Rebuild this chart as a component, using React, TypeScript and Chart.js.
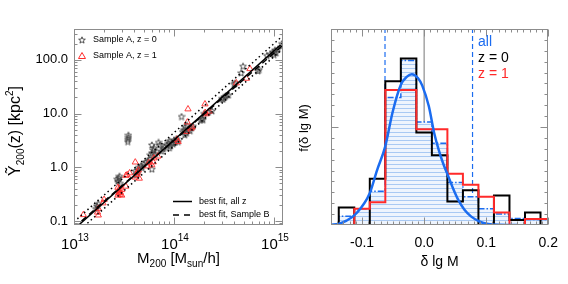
import React, { useEffect, useRef } from "react";
import { Chart, registerables } from "chart.js";

Chart.register(...registerables);

const FONT = '"Liberation Sans", Arial, Helvetica, sans-serif';
const BLUE = "#1b6cf0";
const RED = "#ff2a2a";
const STAR_COLOR = "#404040";
const FRAME = "#8c8c8c";

// ---------------- left panel data ----------------
const massTicks = [1e13, 1e14, 1e15];
const yTicksLeft = [0.1, 1, 10, 100];
// masses in units of 1e14 Msun/h
const starMass = [0.165, 0.17, 0.175, 0.27, 0.275, 0.28, 0.285, 0.29, 0.345, 0.345, 0.35, 0.35, 0.41, 0.42, 0.43, 0.44, 0.45, 0.47, 0.48, 0.5, 0.52, 0.55, 0.57, 0.6, 0.58, 0.6, 0.6, 0.62, 0.63, 0.65, 0.67, 0.7, 0.72, 0.75, 0.78, 0.8, 0.85, 0.88, 0.9, 0.9, 0.92, 0.95, 0.98, 1.0, 1.03, 1.06, 1.1, 1.19, 1.22, 1.25, 1.28, 1.3, 1.33, 1.35, 1.4, 1.45, 1.5, 1.55, 1.85, 1.9, 1.95, 2.0, 2.2, 2.4, 3.0, 3.1, 3.2, 3.3, 3.5, 4.0, 4.1, 4.7, 4.9, 6.9, 7.1, 8.5, 9.2, 9.8, 10.0, 10.2, 10.5, 11.0, 12.0];
const starY = [0.17, 0.19, 0.21, 0.6, 0.55, 0.63, 0.68, 0.5, 3.0, 3.3, 3.6, 3.95, 0.85, 0.72, 0.8, 0.9, 1.0, 1.05, 0.98, 1.15, 1.25, 1.3, 1.4, 0.92, 1.7, 1.85, 2.6, 2.1, 2.3, 1.75, 1.95, 2.9, 2.6, 2.0, 2.2, 2.4, 2.6, 2.8, 3.1, 2.3, 2.5, 2.9, 2.7, 3.2, 2.9, 3.4, 3.0, 8.8, 4.6, 5.0, 4.0, 5.6, 4.3, 6.0, 5.0, 4.8, 5.4, 5.8, 7.5, 8.0, 7.7, 10.0, 10.5, 11.2, 19, 18.5, 20, 21.5, 22, 35, 37, 57, 76, 62, 66, 120, 128, 140, 125, 150, 135, 160, 200];
const triMass = [0.124, 0.172, 0.175, 0.175, 0.195, 0.2, 0.275, 0.275, 0.28, 0.28, 0.285, 0.29, 0.29, 0.3, 0.3, 0.33, 0.33, 0.34, 0.36, 0.41, 0.41, 0.42, 0.43, 0.44, 0.45, 0.54, 0.56, 0.6, 0.62, 0.63, 0.69, 1.07, 1.1, 1.34, 1.36, 1.38, 1.48, 1.52, 2.04, 2.05, 2.1, 2.25, 4.2, 5.3, 5.75];
const triY = [0.13, 0.145, 0.128, 0.17, 0.215, 0.25, 0.3, 0.42, 0.33, 0.36, 0.4, 0.31, 0.34, 0.3, 0.38, 0.44, 0.7, 0.72, 0.78, 1.24, 0.65, 0.72, 0.8, 0.88, 0.62, 1.05, 1.2, 1.1, 1.25, 1.48, 1.6, 3.3, 3.0, 4.6, 6.9, 12.1, 5.3, 5.6, 15, 10.4, 9.8, 11, 37, 45, 68];
const fitMassEnds = [1e13, 1.3e15];
const fitAllZ = [0.07, 227];
const fitSampleB = [0.075, 205];
const fitUpper = [0.096, 310];
const fitLower = [0.054, 178];

// ---------------- right panel data ----------------
const binEdges = [-0.15, -0.1375, -0.1125, -0.0875, -0.0625, -0.0375, -0.0125, 0.0125, 0.0375, 0.0625, 0.0875, 0.1125, 0.1375, 0.1625, 0.1875, 0.2];
const histZ0 = [0, 1.6, 0, 4.25, 13.2, 15.3, 8.5, 6.4, 2.15, 3.2, 0, 2.7, 0.46, 1.15, 0, 0];
const histZ1 = [null, 0, 1.5, 2.1, 12.4, 12.4, 8.8, 8.8, 4.7, 3.7, 2.6, 1.15, 0, 0.55, 0.55, 0.55];
const histAll = [0, 0.8, 1.5, 3.1, 11.7, 15.1, 9.45, 7.5, 3.9, 2.6, 1.5, 1.0, 0.6, 0.5, 0.5, 0.5];
const gaussX = [-0.15, -0.138, -0.125, -0.109, -0.0876, -0.076, -0.0627, -0.0506, -0.0373, -0.028, -0.0198, -0.01, -0.003, 0.0076, 0.016, 0.0235, 0.031, 0.039, 0.047, 0.055, 0.065, 0.076, 0.09, 0.103, 0.12, 0.15];
const gaussY = [0.02, 0.1, 0.4, 1.08, 2.92, 5.0, 7.2, 10.4, 12.9, 13.6, 13.85, 13.5, 12.8, 10.9, 8.5, 6.9, 5.6, 4.46, 3.3, 2.3, 1.4, 0.77, 0.3, 0.1, 0.02, 0];
const deltaTicks = [-0.1, 0, 0.1, 0.2];
const sigmaLines = [-0.063, 0.078];
const fMax = 18;

// ---------------- helpers ----------------
type Part = { t: string; s: number; dy?: number };

function partsWidth(ctx: CanvasRenderingContext2D, parts: Part[]) {
  let w = 0;
  for (const p of parts) {
    ctx.font = `${p.s}px ${FONT}`;
    w += ctx.measureText(p.t).width;
  }
  return w;
}

function drawParts(ctx: CanvasRenderingContext2D, parts: Part[], x: number, y: number, color: string) {
  let cx = x;
  ctx.fillStyle = color;
  ctx.textBaseline = "alphabetic";
  ctx.textAlign = "left";
  for (const p of parts) {
    ctx.font = `${p.s}px ${FONT}`;
    ctx.fillText(p.t, cx, y + (p.dy || 0));
    cx += ctx.measureText(p.t).width;
  }
}

function makeStar(color: string) {
  const c = document.createElement("canvas");
  c.width = 8;
  c.height = 8;
  const g = c.getContext("2d")!;
  g.strokeStyle = color;
  g.lineWidth = 0.9;
  g.beginPath();
  for (let i = 0; i < 10; i++) {
    const r = i % 2 === 0 ? 3.5 : 1.5;
    const a = -Math.PI / 2 + (i * Math.PI) / 5;
    const x = 4 + r * Math.cos(a);
    const y = 4.3 + r * Math.sin(a);
    if (i === 0) g.moveTo(x, y);
    else g.lineTo(x, y);
  }
  g.closePath();
  g.stroke();
  return c;
}

function makeHatch() {
  const c = document.createElement("canvas");
  c.width = 4;
  c.height = 4;
  const g = c.getContext("2d")!;
  g.fillStyle = "#eef4fd";
  g.fillRect(0, 0, 4, 4);
  g.fillStyle = "#a9c9f3";
  g.fillRect(0, 0, 4, 1);
  return g.createPattern(c, "repeat")!;
}

function logMinor(min: number, max: number) {
  const out: number[] = [];
  for (let e = -3; e <= 16; e++) {
    for (let k = 2; k <= 9; k++) {
      const v = k * Math.pow(10, e);
      if (v > min && v < max) out.push(v);
    }
  }
  return out;
}

function linMinor(min: number, max: number, step: number) {
  const out: number[] = [];
  const n = Math.round((max - min) / step);
  for (let i = 1; i < n; i++) out.push(min + i * step);
  return out;
}

function framePlugin(spec: { xMajor: number[]; xMinor: number[]; yMajor: number[]; yMinor: number[] }) {
  return {
    id: "frameTicks",
    afterDatasetsDraw(chart: any) {
      const { ctx, chartArea: a, scales } = chart;
      const L = Math.round(a.left) + 0.5;
      const R = Math.round(a.right) - 0.5;
      const T = Math.round(a.top) + 0.5;
      const B = Math.round(a.bottom) - 0.5;
      ctx.save();
      ctx.strokeStyle = FRAME;
      ctx.lineWidth = 1;
      ctx.setLineDash([]);
      ctx.strokeRect(L, T, R - L, B - T);
      const tick = (vals: number[], len: number, axis: "x" | "y") => {
        ctx.beginPath();
        for (const v of vals) {
          if (axis === "x") {
            const p = Math.round(scales.x.getPixelForValue(v)) + 0.5;
            if (p < L || p > R + 1) continue;
            ctx.moveTo(p, B);
            ctx.lineTo(p, B - len);
            ctx.moveTo(p, T);
            ctx.lineTo(p, T + len);
          } else {
            const p = Math.round(scales.y.getPixelForValue(v)) + 0.5;
            if (p < T || p > B + 1) continue;
            ctx.moveTo(L, p);
            ctx.lineTo(L + len, p);
            ctx.moveTo(R, p);
            ctx.lineTo(R - len, p);
          }
        }
        ctx.stroke();
      };
      tick(spec.xMinor, 3, "x");
      tick(spec.xMajor, 7, "x");
      tick(spec.yMinor, 3, "y");
      tick(spec.yMajor, 7, "y");
      ctx.restore();
    },
  };
}

const baseOptions = {
  responsive: false,
  maintainAspectRatio: false,
  devicePixelRatio: 1,
  animation: false as const,
  events: [] as any[],
  plugins: { legend: { display: false }, tooltip: { enabled: false } },
};

function leftConfig(): any {
  const star = makeStar(STAR_COLOR);
  const line = (ys: number[], dash: number[], width: number) => ({
    data: fitMassEnds.map((m, i) => ({ x: m, y: ys[i] })),
    showLine: true,
    pointRadius: 0,
    borderColor: "#000",
    borderWidth: width,
    borderDash: dash,
    fill: false,
  });
  const textPlugin = {
    id: "leftText",
    afterDraw(chart: any) {
      const { ctx, chartArea: a, scales } = chart;
      ctx.save();
      for (const v of massTicks) {
        const px = scales.x.getPixelForValue(v);
        const parts: Part[] = [
          { t: "10", s: 15 },
          { t: String(Math.round(Math.log10(v))), s: 10, dy: -8 },
        ];
        const w = partsWidth(ctx, parts);
        drawParts(ctx, parts, px - w / 2 + 1, 249, "#000");
      }
      const xt: Part[] = [
        { t: "M", s: 15 },
        { t: "200", s: 10, dy: 4 },
        { t: " [M", s: 15 },
        { t: "sun", s: 10, dy: 4 },
        { t: "/h]", s: 15 },
      ];
      const xw = partsWidth(ctx, xt);
      drawParts(ctx, xt, (a.left + a.right) / 2 - xw / 2, 263, "#000");
      const yt: Part[] = [
        { t: "Ỹ", s: 16 },
        { t: "200", s: 10, dy: 4 },
        { t: "(z) [kpc", s: 16 },
        { t: "2", s: 10, dy: -7 },
        { t: "]", s: 16 },
      ];
      const yw = partsWidth(ctx, yt);
      ctx.save();
      ctx.translate(20, 131);
      ctx.rotate(-Math.PI / 2);
      drawParts(ctx, yt, -yw / 2, 0, "#000");
      ctx.restore();
      ctx.drawImage(star, 82 - 4, 40 - 4);
      ctx.strokeStyle = RED;
      ctx.lineWidth = 1;
      ctx.beginPath();
      ctx.moveTo(82, 52.5);
      ctx.lineTo(85.5, 58.5);
      ctx.lineTo(78.5, 58.5);
      ctx.closePath();
      ctx.stroke();
      ctx.fillStyle = "#000";
      ctx.font = `9px ${FONT}`;
      ctx.textBaseline = "middle";
      ctx.textAlign = "left";
      ctx.fillText("Sample A, z = 0", 93, 40);
      ctx.fillText("Sample A, z = 1", 93, 56);
      ctx.strokeStyle = "#000";
      ctx.lineWidth = 1.5;
      ctx.beginPath();
      ctx.moveTo(173, 201.5);
      ctx.lineTo(192, 201.5);
      ctx.stroke();
      ctx.setLineDash([6, 5]);
      ctx.beginPath();
      ctx.moveTo(173, 215);
      ctx.lineTo(192, 215);
      ctx.stroke();
      ctx.setLineDash([]);
      ctx.fillText("best fit, all z", 199, 201.5);
      ctx.fillText("best fit, Sample B", 199, 215);
      ctx.restore();
    },
  };
  return {
    type: "scatter",
    data: {
      datasets: [
        { ...line(fitAllZ, [], 1.5), order: 0 },
        { ...line(fitSampleB, [6, 4], 1.5), order: 1 },
        { ...line(fitUpper, [1.5, 3], 1.5), order: 2 },
        { ...line(fitLower, [1.5, 3], 1.5), order: 3 },
        {
          data: triMass.map((m, i) => ({ x: m * 1e14, y: triY[i] })),
          pointStyle: "triangle",
          pointRadius: 3.6,
          borderColor: RED,
          backgroundColor: "rgba(0,0,0,0)",
          borderWidth: 0.9,
          order: 4,
        },
        {
          data: starMass.map((m, i) => ({ x: m * 1e14, y: starY[i] })),
          pointStyle: star,
          pointRadius: 3,
          order: 5,
        },
      ],
    },
    options: {
      ...baseOptions,
      layout: { padding: { left: 0, right: 7, top: 29, bottom: 0 } },
      scales: {
        x: {
          type: "logarithmic",
          min: 1e13,
          max: 1.23e15,
          grid: { display: false, drawTicks: false },
          border: { display: false },
          ticks: { display: false },
          afterBuildTicks: (s: any) => {
            s.ticks = massTicks.map((value) => ({ value }));
          },
          afterFit: (s: any) => {
            s.height = 59;
          },
        },
        y: {
          type: "logarithmic",
          min: 0.084,
          max: 375,
          grid: { display: false, drawTicks: false },
          border: { display: false },
          ticks: {
            padding: 6,
            color: "#000",
            font: { size: 13, family: FONT },
            callback: (v: any) => Number(v).toFixed(1),
          },
          afterBuildTicks: (s: any) => {
            s.ticks = yTicksLeft.map((value) => ({ value }));
          },
          afterFit: (s: any) => {
            s.width = 74;
          },
        },
      },
    },
    plugins: [
      framePlugin({
        xMajor: massTicks,
        xMinor: logMinor(1e13, 1.23e15),
        yMajor: yTicksLeft,
        yMinor: logMinor(0.084, 375),
      }),
      textPlugin,
    ],
  };
}

function rightConfig(): any {
  const hatch = makeHatch();
  const hist = (vals: (number | null)[]) => binEdges.map((x, i) => ({ x, y: vals[i] }));
  const vline = (x: number) => [
    { x, y: 0 },
    { x, y: fMax },
  ];
  const textPlugin = {
    id: "rightText",
    afterDraw(chart: any) {
      const { ctx, chartArea: a } = chart;
      ctx.save();
      ctx.save();
      ctx.translate(18, 128);
      ctx.rotate(-Math.PI / 2);
      ctx.font = `13px ${FONT}`;
      ctx.fillStyle = "#000";
      ctx.textAlign = "center";
      ctx.textBaseline = "alphabetic";
      ctx.fillText("f(δ lg M)", 0, 0);
      ctx.restore();
      ctx.font = `14px ${FONT}`;
      ctx.fillStyle = "#000";
      ctx.textAlign = "center";
      ctx.textBaseline = "alphabetic";
      ctx.fillText("δ lg M", (a.left + a.right) / 2, 266);
      ctx.textAlign = "left";
      ctx.textBaseline = "middle";
      ctx.fillStyle = BLUE;
      ctx.fillText("all", 188, 42);
      ctx.fillStyle = "#000";
      ctx.fillText("z = 0", 188, 58);
      ctx.fillStyle = RED;
      ctx.fillText("z = 1", 188, 74);
      ctx.restore();
    },
  };
  return {
    type: "scatter",
    data: {
      datasets: [
        {
          data: gaussX.map((x, i) => ({ x, y: gaussY[i] })),
          showLine: true,
          pointRadius: 0,
          borderColor: BLUE,
          borderWidth: 2.5,
          tension: 0.4,
          cubicInterpolationMode: "monotone",
          fill: false,
          order: 0,
        },
        {
          data: hist(histZ1),
          showLine: true,
          stepped: true,
          pointRadius: 0,
          borderColor: RED,
          borderWidth: 2,
          fill: false,
          order: 1,
        },
        {
          data: hist(histZ0),
          showLine: true,
          stepped: true,
          pointRadius: 0,
          borderColor: "#000",
          borderWidth: 2,
          fill: false,
          order: 2,
        },
        {
          data: hist(histAll),
          showLine: true,
          stepped: true,
          pointRadius: 0,
          borderColor: BLUE,
          borderWidth: 1.5,
          borderDash: [6, 2, 1.5, 2],
          fill: "origin",
          backgroundColor: hatch,
          order: 3,
        },
        ...sigmaLines.map((s) => ({
          data: vline(s),
          showLine: true,
          pointRadius: 0,
          borderColor: BLUE,
          borderWidth: 1.2,
          borderDash: [5, 3],
          fill: false,
          order: 4,
        })),
        {
          data: vline(0),
          showLine: true,
          pointRadius: 0,
          borderColor: "#777",
          borderWidth: 1,
          fill: false,
          order: 5,
        },
      ],
    },
    options: {
      ...baseOptions,
      layout: { padding: { left: 0, right: 19, top: 29, bottom: 0 } },
      scales: {
        x: {
          type: "linear",
          min: -0.15,
          max: 0.2,
          grid: { display: false, drawTicks: false },
          border: { display: false },
          ticks: {
            padding: 10,
            color: "#000",
            font: { size: 14, family: FONT },
            callback: (v: any) => Number(v).toFixed(1),
          },
          afterBuildTicks: (s: any) => {
            s.ticks = deltaTicks.map((value) => ({ value }));
          },
          afterFit: (s: any) => {
            s.height = 59;
          },
        },
        y: {
          type: "linear",
          min: 0,
          max: fMax,
          grid: { display: false, drawTicks: false },
          border: { display: false },
          ticks: { display: false },
          afterFit: (s: any) => {
            s.width = 41;
          },
        },
      },
    },
    plugins: [
      framePlugin({
        xMajor: deltaTicks,
        xMinor: linMinor(-0.15, 0.2, 0.01),
        yMajor: [fMax / 2],
        yMinor: linMinor(0, fMax, 1),
      }),
      textPlugin,
    ],
  };
}

export default function App() {
  const leftRef = useRef<HTMLCanvasElement>(null);
  const rightRef = useRef<HTMLCanvasElement>(null);
  useEffect(() => {
    Chart.defaults.font.family = FONT;
    const c1 = new Chart(leftRef.current!, leftConfig());
    const c2 = new Chart(rightRef.current!, rightConfig());
    return () => {
      c1.destroy();
      c2.destroy();
    };
  }, []);
  return (
    <div style={{ position: "fixed", left: 0, top: 0, width: 568, height: 284, background: "#fff" }}>
      <canvas ref={leftRef} width={290} height={284} style={{ position: "absolute", left: 0, top: 0, width: 290, height: 284 }} />
      <canvas ref={rightRef} width={278} height={284} style={{ position: "absolute", left: 290, top: 0, width: 278, height: 284 }} />
    </div>
  );
}
